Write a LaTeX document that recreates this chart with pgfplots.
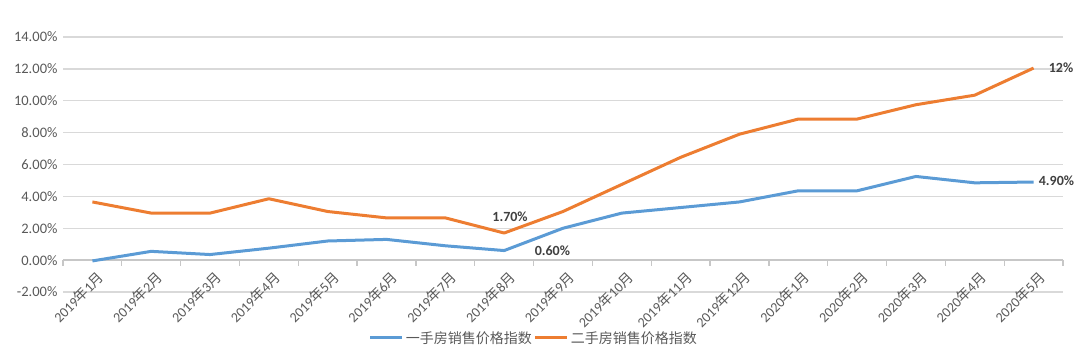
\documentclass[border=0pt]{standalone}
\usepackage{pgfplots}
\pgfplotsset{compat=1.18}
\usepackage{fontspec}
\setmainfont{Carlito}
\newfontfamily\cjk{Noto Sans CJK SC}
\definecolor{cblue}{HTML}{5B9BD5}
\definecolor{corange}{HTML}{ED7D31}
\definecolor{tgray}{HTML}{595959}
\definecolor{lgray}{HTML}{404040}
\definecolor{gridc}{HTML}{D9D9D9}
\newcommand{\ym}[2]{#1{\cjk 年}#2{\cjk 月}}
\begin{document}
\begin{tikzpicture}
\useasboundingbox (0,0) rectangle (1080pt,361pt);
\begin{axis}[
  at={(63pt,69pt)}, anchor=south west,
  scale only axis, width=1000pt, height=255pt,
  xmin=-0.5, xmax=16.5, ymin=-2, ymax=14,
  axis line style={draw=none},
  major tick length=0pt,
  ytick={-2,0,...,14},
  yticklabels={-2.00\%,0.00\%,2.00\%,4.00\%,6.00\%,8.00\%,10.00\%,12.00\%,14.00\%},
  ymajorgrids, grid style={gridc, line width=1.3pt},
  xtick={0,...,16},
  xticklabels={\ym{2019}{1},\ym{2019}{2},\ym{2019}{3},\ym{2019}{4},\ym{2019}{5},\ym{2019}{6},\ym{2019}{7},\ym{2019}{8},\ym{2019}{9},\ym{2019}{10},\ym{2019}{11},\ym{2019}{12},\ym{2020}{1},\ym{2020}{2},\ym{2020}{3},\ym{2020}{4},\ym{2020}{5}},
  xticklabel style={yshift=27pt, xshift=4pt, rotate=45, anchor=north east, font=\fontsize{14}{16}\selectfont},
  yticklabel style={xshift=-2pt, font=\fontsize{14.5}{16}\selectfont},
  tick label style={text=tgray},
  legend style={at={(0.471,-0.18)}, anchor=center, draw=none, fill=none,
    legend columns=2, font=\fontsize{14}{16}\selectfont,
    nodes={font=\fontsize{14}{16}\selectfont\cjk, text=tgray},
    /tikz/every even column/.append style={column sep=0pt}},
  legend image code/.code={\draw[#1, line width=3pt] (0pt,0pt) -- (32pt,0pt);},
  clip=false,
]
\draw[gridc!80!gray, line width=1.3pt] (axis cs:-0.5,0) -- (axis cs:16.5,0);
\pgfplotsinvokeforeach{-0.5,0.5,1.5,2.5,3.5,4.5,5.5,6.5,7.5,8.5,9.5,10.5,11.5,12.5,13.5,14.5,15.5,16.5}{\draw[gridc!80!gray, line width=1.3pt] (axis cs:#1,0) -- (axis cs:#1,-0.4);}
\addplot[cblue, line width=3pt, line join=round] coordinates {
 (0,-0.05) (1,0.55) (2,0.35) (3,0.75) (4,1.2) (5,1.3) (6,0.9) (7,0.6) (8,2.0)
 (9,2.95) (10,3.3) (11,3.65) (12,4.35) (13,4.35) (14,5.25) (15,4.85) (16,4.9)};
\addlegendentry{一手房销售价格指数}
\addplot[corange, line width=3pt, line join=round] coordinates {
 (0,3.65) (1,2.95) (2,2.95) (3,3.85) (4,3.05) (5,2.65) (6,2.65) (7,1.7) (8,3.05)
 (9,4.75) (10,6.45) (11,7.9) (12,8.85) (13,8.85) (14,9.75) (15,10.35) (16,12.05)};
\addlegendentry{二手房销售价格指数}
\node[font=\bfseries\fontsize{14}{16}\selectfont, text=lgray] at (axis cs:7.1,2.7) {1.70\%};
\node[font=\bfseries\fontsize{14}{16}\selectfont, text=lgray] at (axis cs:7.82,0.6) {0.60\%};
\node[font=\bfseries\fontsize{14}{16}\selectfont, text=lgray, anchor=west] at (axis cs:16.03,4.95) {4.90\%};
\node[font=\bfseries\fontsize{14}{16}\selectfont, text=lgray, anchor=west] at (axis cs:16.2,12.05) {12\%};
\end{axis}
\end{tikzpicture}
\end{document}
